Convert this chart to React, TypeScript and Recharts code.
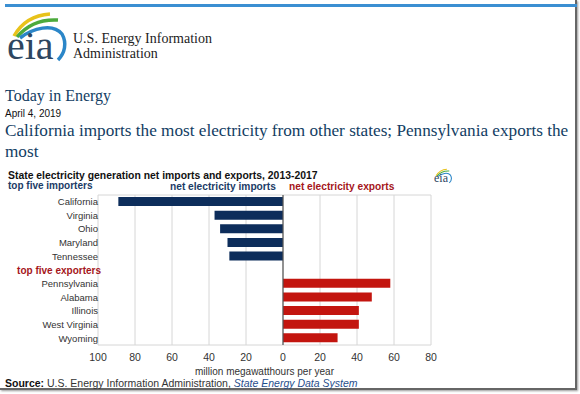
import React from "react";
import {
  Bar,
  BarChart,
  CartesianGrid,
  Cell,
  ReferenceLine,
  XAxis,
  YAxis,
} from "recharts";

const importers = ["California", "Virginia", "Ohio", "Maryland", "Tennessee"];
const importValues = [89, 37, 34, 30, 29];
const exportHeader = "top five exporters";
const exporters = ["Pennsylvania", "Alabama", "Illinois", "West Virginia", "Wyoming"];
const exportValues = [58, 48, 41, 41, 29.5];
const xTicks = [-100, -80, -60, -40, -20, 0, 20, 40, 60, 80];

const NAVY = "#0d2d5b";
const RED = "#c3150f";
const SANS = "'Liberation Sans', Arial, sans-serif";
const SERIF = "'Liberation Serif', 'Times New Roman', serif";

// importers are drawn to the left of zero, exporters to the right
const rows = [
  ...importers.map((state, i) => ({ state, value: -importValues[i], kind: "imp" })),
  { state: exportHeader, value: null, kind: "head" },
  ...exporters.map((state, i) => ({ state, value: exportValues[i], kind: "exp" })),
];

const StateTick = (props: any) => {
  const { x, y, payload } = props;
  const head = payload.value === exportHeader;
  return (
    <text
      x={head ? x + 3 : x}
      y={y}
      dy="0.35em"
      textAnchor="end"
      fontFamily={SANS}
      fontSize={head ? 10 : 9.5}
      fontWeight={head ? "bold" : "normal"}
      fill={head ? "#a5161b" : "#333"}
    >
      {payload.value}
    </text>
  );
};

// swooshes over the "eia" word
const EiaLogo = ({ left, top, scale = 1 }: { left: number; top: number; scale?: number }) => (
  <div style={{ position: "absolute", left, top, width: 64 * scale, height: 56 * scale }}>
    <svg width={64 * scale} height={56 * scale} viewBox="0 0 64 56" style={{ position: "absolute", left: 0, top: 0 }}>
      <path d="M7 26 C 15 12, 28 5, 43 4" stroke="#e8c21a" strokeWidth={3.5} fill="none" />
      <path d="M10 27 C 20 15, 34 9, 51 10" stroke="#4caa3c" strokeWidth={3.5} fill="none" />
      <path d="M13 28 C 26 18, 46 13, 55 24 C 60 33, 58 43, 51 50" stroke="#2b86c8" strokeWidth={3.5} fill="none" />
    </svg>
    <div
      style={{
        position: "absolute",
        left: 0,
        top: 14 * scale,
        fontFamily: SERIF,
        fontSize: 40 * scale,
        lineHeight: `${44 * scale}px`,
        color: "#2e4660",
      }}
    >
      eia
    </div>
  </div>
);

const App = () => {
  return (
    <div
      style={{
        position: "absolute",
        left: 0,
        top: 0,
        width: 580,
        height: 394,
        background: "#fff",
        overflow: "hidden",
      }}
    >
      <div
        style={{
          position: "absolute",
          left: 0,
          top: 0,
          width: 575,
          height: 388,
          borderRight: "2px solid #666",
          borderBottom: "2px solid #666",
          boxShadow: "1px 1px 2px #999",
        }}
      />
      <div style={{ position: "absolute", left: 5, top: 4, width: 572, height: 3, background: "#3b8fd2" }} />
      <EiaLogo left={7} top={10} />
      <div
        style={{
          position: "absolute",
          left: 73,
          top: 31,
          fontFamily: SERIF,
          fontSize: 14,
          lineHeight: "15px",
          color: "#222",
        }}
      >
        U.S. Energy Information
        <br />
        Administration
      </div>

      <div style={{ position: "absolute", left: 5, top: 87, fontFamily: SERIF, fontSize: 16, color: "#123d63" }}>
        Today in Energy
      </div>
      <div style={{ position: "absolute", left: 5, top: 108, fontFamily: SANS, fontSize: 10, color: "#111" }}>
        April 4, 2019
      </div>
      <div
        style={{
          position: "absolute",
          left: 5,
          top: 120,
          fontFamily: SERIF,
          fontSize: 17.2,
          lineHeight: "21px",
          color: "#123d63",
          whiteSpace: "nowrap",
        }}
      >
        California imports the most electricity from other states; Pennsylvania exports the
        <br />
        most
      </div>

      <div
        style={{
          position: "absolute",
          left: 8,
          top: 170,
          fontFamily: SANS,
          fontSize: 10.4,
          fontWeight: "bold",
          color: "#111",
          whiteSpace: "nowrap",
        }}
      >
        State electricity generation net imports and exports, 2013-2017
      </div>
      <EiaLogo left={434} top={168} scale={0.3} />
      <div
        style={{
          position: "absolute",
          left: 8,
          top: 180,
          fontFamily: SANS,
          fontSize: 10,
          fontWeight: "bold",
          color: "#1b3b66",
        }}
      >
        top five importers
      </div>
      <div
        style={{
          position: "absolute",
          left: 170,
          top: 181,
          fontFamily: SANS,
          fontSize: 10.2,
          fontWeight: "bold",
          color: "#1b3b66",
        }}
      >
        net electricity imports
      </div>
      <div
        style={{
          position: "absolute",
          left: 289,
          top: 181,
          fontFamily: SANS,
          fontSize: 10.2,
          fontWeight: "bold",
          color: "#a5161b",
        }}
      >
        net electricity exports
      </div>

      <div style={{ position: "absolute", left: 0, top: 0 }}>
        <BarChart
          width={580}
          height={394}
          data={rows}
          layout="vertical"
          margin={{ top: 195, right: 149, bottom: 19, left: 8 }}
          barSize={9}
        >
          <CartesianGrid
            stroke="#d6d6d6"
            horizontalCoordinatesGenerator={({ offset }: any) => [offset.top, offset.top + offset.height]}
          />
          <XAxis
            type="number"
            domain={[-100, 80]}
            ticks={xTicks}
            tickFormatter={(v: number) => String(Math.abs(v))}
            axisLine={false}
            tickLine={false}
            tickSize={0}
            tickMargin={9}
            height={30}
            tick={{ fontFamily: SANS, fontSize: 10.5, fill: "#333" }}
            interval={0}
          />
          <YAxis
            type="category"
            dataKey="state"
            width={90}
            axisLine={false}
            tickLine={false}
            tickSize={0}
            tickMargin={0}
            interval={0}
            tick={<StateTick />}
          />
          <ReferenceLine x={0} stroke="#555" strokeWidth={1.2} />
          <Bar dataKey="value" isAnimationActive={false}>
            {rows.map((r) => (
              <Cell key={r.state} fill={r.kind === "imp" ? NAVY : RED} />
            ))}
          </Bar>
        </BarChart>
      </div>

      <div
        style={{
          position: "absolute",
          left: 98,
          width: 333,
          top: 366,
          textAlign: "center",
          fontFamily: SANS,
          fontSize: 10,
          color: "#333",
        }}
      >
        million megawatthours per year
      </div>
      <div
        style={{
          position: "absolute",
          left: 5,
          top: 377,
          fontFamily: SANS,
          fontSize: 10.5,
          color: "#333",
          whiteSpace: "nowrap",
        }}
      >
        <b style={{ color: "#111" }}>Source:</b> U.S. Energy Information Administration,{" "}
        <i style={{ color: "#1f4e8c" }}>State Energy Data System</i>
      </div>
    </div>
  );
};

export default App;
